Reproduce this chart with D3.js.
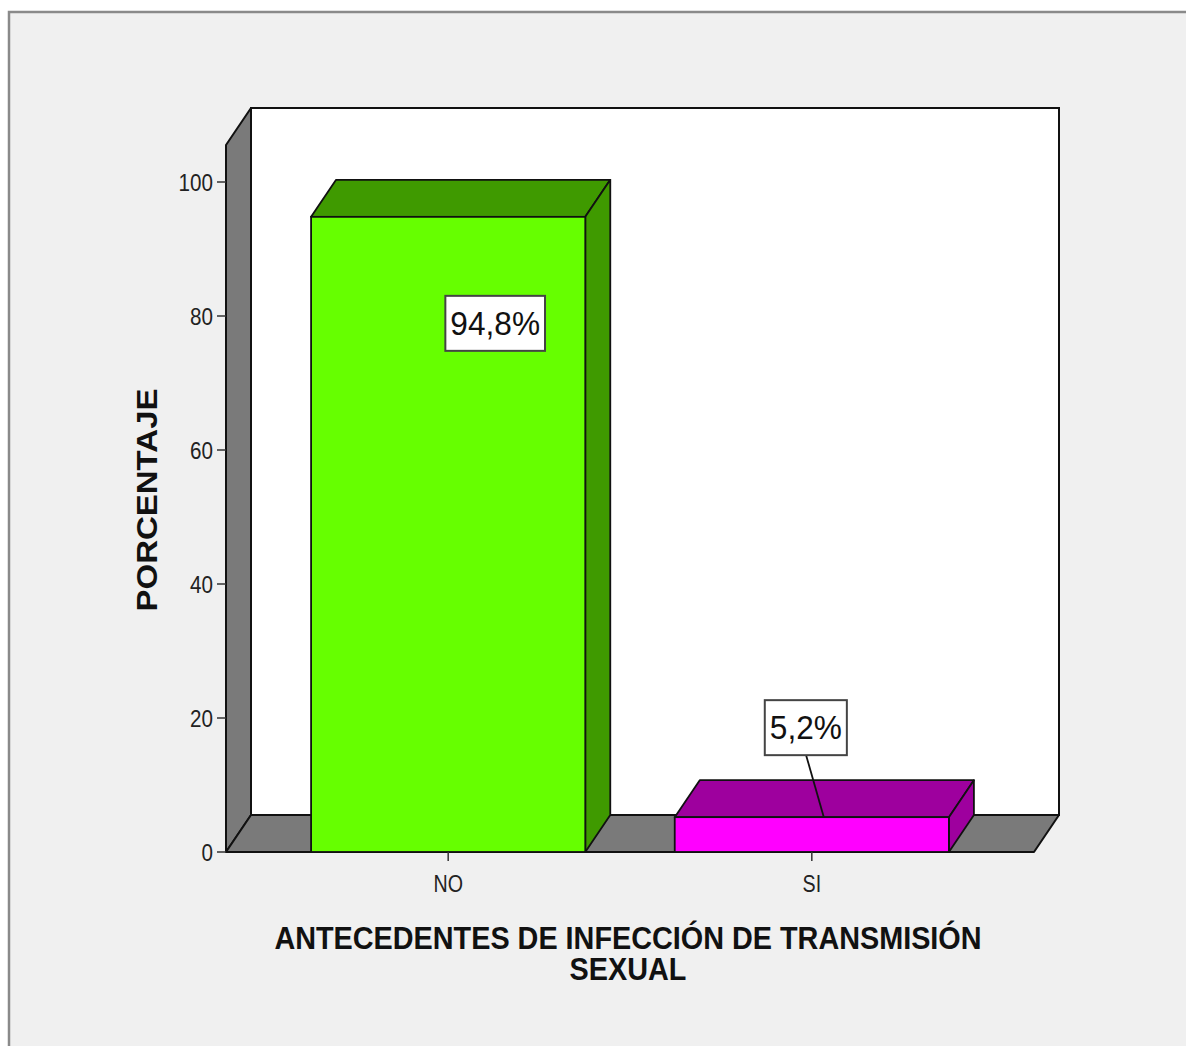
<!DOCTYPE html>
<html>
<head>
<meta charset="utf-8">
<script src="https://cdn.jsdelivr.net/npm/d3@7"></script>
<style>
  body { margin: 0; background: #fff; }
  svg { display: block; font-family: "Liberation Sans", Arial, sans-serif; }
</style>
</head>
<body>
<svg></svg>
<script>
var WIDTH = 1186;
var HEIGHT = 1046;

// data
var categories = ['NO', 'SI'];
var values = [94.8, 5.2];
var valueLabels = ['94,8%', '5,2%'];
var yTicks = [0, 20, 40, 60, 80, 100];
var frontColors = ['#66ff00', '#ff00ff'];
var shadeColors = ['#3f9a00', '#9e009e'];

var DX = 25, DY = -37; // 3d depth offset
var SQUASH = 0.86;      // the text in the original is a bit narrow

var svg = d3.select('svg')
  .attr('width', WIDTH)
  .attr('height', HEIGHT);

// outer frame
svg.append('rect')
  .attr('x', 9).attr('y', 12)
  .attr('width', 1190).attr('height', 1100)
  .attr('fill', '#f0f0f0')
  .attr('stroke', '#8a8a8a')
  .attr('stroke-width', 2.5);

var yScale = d3.scaleLinear().domain([0, 100]).range([852, 182]);
var xScale = d3.scaleBand().domain(categories).range([226, 1034])
  .paddingInner(0.246).paddingOuter(0.234);

var x0 = xScale.range()[0], x1 = xScale.range()[1];
var yb = yScale(0);
var yTop = 145; // top of left wall front edge

var pts = function(a){ return a.map(function(p){ return p.join(','); }).join(' '); };

// narrow text helper: a group at (x,y) squeezed horizontally
var narrowText = function(parent, x, y, sx, str){
  return parent.append('g')
    .attr('transform', 'translate(' + x + ',' + y + ') scale(' + sx + ',1)')
    .append('text')
    .text(str);
};

// back wall
svg.append('rect')
  .attr('x', x0 + DX).attr('y', yTop + DY)
  .attr('width', x1 - x0).attr('height', yb - yTop)
  .attr('fill', '#fff').attr('stroke', '#111').attr('stroke-width', 2);

// left wall
svg.append('polygon')
  .attr('points', pts([[x0, yTop], [x0 + DX, yTop + DY], [x0 + DX, yb + DY], [x0, yb]]))
  .attr('fill', '#7a7a7a').attr('stroke', '#111').attr('stroke-width', 2)
  .attr('stroke-linejoin', 'round');

// floor
svg.append('polygon')
  .attr('points', pts([[x0, yb], [x0 + DX, yb + DY], [x1 + DX, yb + DY], [x1, yb]]))
  .attr('fill', '#7a7a7a').attr('stroke', '#111').attr('stroke-width', 2)
  .attr('stroke-linejoin', 'round');

var data = categories.map(function(c, i){
  return { cat: c, v: values[i], label: valueLabels[i], front: frontColors[i], shade: shadeColors[i] };
});

var bars = svg.append('g').selectAll('g').data(data).enter().append('g');

bars.append('polygon') // top face
  .attr('points', function(d){
    var l = xScale(d.cat), r = l + xScale.bandwidth(), t = yScale(d.v);
    return pts([[l, t], [l + DX, t + DY], [r + DX, t + DY], [r, t]]);
  })
  .attr('fill', function(d){ return d.shade; })
  .attr('stroke', '#111').attr('stroke-width', 1.8).attr('stroke-linejoin', 'round');

bars.append('polygon') // side face
  .attr('points', function(d){
    var r = xScale(d.cat) + xScale.bandwidth(), t = yScale(d.v);
    return pts([[r, t], [r + DX, t + DY], [r + DX, yb + DY], [r, yb]]);
  })
  .attr('fill', function(d){ return d.shade; })
  .attr('stroke', '#111').attr('stroke-width', 1.8).attr('stroke-linejoin', 'round');

bars.append('rect') // front face
  .attr('x', function(d){ return xScale(d.cat); })
  .attr('y', function(d){ return yScale(d.v); })
  .attr('width', xScale.bandwidth())
  .attr('height', function(d){ return yb - yScale(d.v); })
  .attr('fill', function(d){ return d.front; })
  .attr('stroke', '#111').attr('stroke-width', 1.8);

// y axis ticks
var yAxis = svg.append('g');
yAxis.selectAll('line').data(yTicks).enter().append('line')
  .attr('x1', x0 - 9).attr('x2', x0)
  .attr('y1', function(d){ return yScale(d); })
  .attr('y2', function(d){ return yScale(d); })
  .attr('stroke', '#333').attr('stroke-width', 1.5);
yTicks.forEach(function(d){
  narrowText(yAxis, x0 - 13, yScale(d), SQUASH, d)
    .attr('dy', '0.37em')
    .attr('text-anchor', 'end')
    .attr('font-size', 24)
    .attr('fill', '#222');
});

// x axis ticks
var xAxis = svg.append('g');
xAxis.selectAll('line').data(categories).enter().append('line')
  .attr('x1', function(d){ return xScale(d) + xScale.bandwidth() / 2; })
  .attr('x2', function(d){ return xScale(d) + xScale.bandwidth() / 2; })
  .attr('y1', yb).attr('y2', yb + 9)
  .attr('stroke', '#333').attr('stroke-width', 1.5);
categories.forEach(function(d){
  narrowText(xAxis, xScale(d) + xScale.bandwidth() / 2, yb + 40, 0.82, d)
    .attr('text-anchor', 'middle')
    .attr('font-size', 24)
    .attr('fill', '#222');
});

// value labels
var labels = svg.append('g').selectAll('g').data(data).enter().append('g')
  .attr('transform', function(d, i){
    var cx = xScale(d.cat) + xScale.bandwidth() / 2;
    if (i === 0) return 'translate(' + (cx + 47) + ',' + (yScale(d.v) + 106) + ')';
    return 'translate(' + (cx - 6) + ',' + (yScale(d.v) - 90) + ')';
  });

labels.each(function(d, i){
  var g = d3.select(this);
  if (i === 1) {
    g.append('line')
      .attr('x1', 0).attr('y1', 27)
      .attr('x2', 18).attr('y2', 90)
      .attr('stroke', '#111').attr('stroke-width', 1.8);
  }
  var box = g.append('rect');
  var t = narrowText(g, 0, 0, 0.93, d.label)
    .attr('text-anchor', 'middle')
    .attr('dy', '0.36em')
    .attr('font-size', 34)
    .attr('fill', '#111');
  var w = t.node().getComputedTextLength() * 0.93 + 10;
  box.attr('x', -w / 2).attr('y', -27)
    .attr('width', w).attr('height', 55)
    .attr('fill', '#fff').attr('stroke', '#444').attr('stroke-width', 2);
});

// axis titles
svg.append('g')
  .attr('transform', 'translate(157,500) scale(0.92,1) rotate(-90)')
  .append('text')
  .attr('text-anchor', 'middle')
  .attr('font-size', 33)
  .attr('font-weight', 'bold')
  .attr('fill', '#111')
  .text('PORCENTAJE');

// two-line x title, each line its own squeezed group
var titleLines = ['ANTECEDENTES DE INFECCIÓN DE TRANSMISIÓN', 'SEXUAL'];
titleLines.forEach(function(s, i){
  narrowText(svg, 628, 949 + i * 31, 0.9, s)
    .attr('text-anchor', 'middle')
    .attr('font-size', 32)
    .attr('font-weight', 'bold')
    .attr('fill', '#111');
});
</script>
</body>
</html>
